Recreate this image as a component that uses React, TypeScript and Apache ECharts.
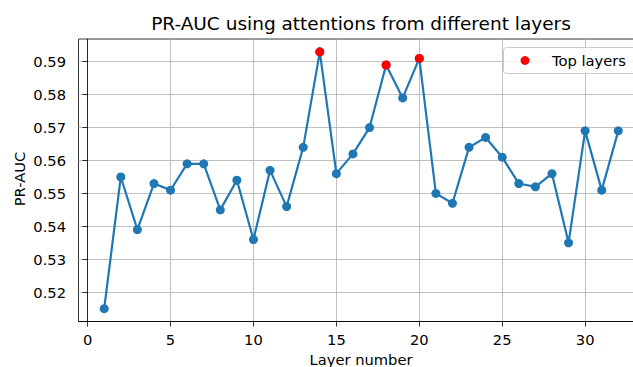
import React, { useEffect, useRef } from "react";
import * as echarts from "echarts";

const layers = [1, 2, 3, 4, 5, 6, 7, 8, 9, 10, 11, 12, 13, 14, 15, 16, 17, 18, 19, 20, 21, 22, 23, 24, 25, 26, 27, 28, 29, 30, 31, 32];
const prAuc = [0.515, 0.555, 0.539, 0.553, 0.551, 0.559, 0.559, 0.545, 0.554, 0.536, 0.557, 0.546, 0.564, 0.593, 0.556, 0.562, 0.570, 0.589, 0.579, 0.591, 0.550, 0.547, 0.564, 0.567, 0.561, 0.553, 0.552, 0.556, 0.535, 0.569, 0.551, 0.569];
const topLayers = [14, 18, 20];
const xTicks = [0, 5, 10, 15, 20, 25, 30];
const yTicks = [0.52, 0.53, 0.54, 0.55, 0.56, 0.57, 0.58, 0.59];

const FONT = "DejaVu Sans";
const TICK_FS = 14.7;

export default function App() {
  const ref = useRef<HTMLDivElement>(null);
  useEffect(() => {
    if (!ref.current) return;
    const chart = echarts.init(ref.current, undefined, { renderer: "svg" });
    const lineData = layers.map((l, i) => [l, prAuc[i]]);
    const topData = topLayers.map((l) => [l, prAuc[layers.indexOf(l)]]);
    chart.setOption({
      animation: false,
      grid: {
        left: 78.5,
        top: 39,
        width: 565.5,
        height: 282.5,
        outerBoundsMode: "none",
        containLabel: false,
        show: true,
        borderColor: "#000",
        borderWidth: 0.8,
        backgroundColor: "transparent",
      },
      xAxis: {
        type: "value",
        min: -0.55,
        max: 33.55,
        axisLine: { show: true, lineStyle: { color: "#000", width: 0.8 } },
        axisTick: { show: true, length: 5.1, customValues: xTicks, lineStyle: { color: "#000", width: 0.8 } },
        axisLabel: {
          customValues: xTicks,
          margin: 10.5,
          color: "#000",
          fontFamily: FONT,
          fontSize: TICK_FS,
          formatter: (v: number) => String(v),
        },
        splitLine: { show: true, lineStyle: { color: "#b0b0b0", width: 0.8 } },
      },
      yAxis: {
        type: "value",
        min: 0.5111,
        max: 0.5969,
        axisLine: { show: true, lineStyle: { color: "#000", width: 0.8 } },
        axisTick: { show: true, length: 5.1, customValues: yTicks, lineStyle: { color: "#000", width: 0.8 } },
        axisLabel: {
          customValues: yTicks,
          margin: 12.5,
          color: "#000",
          fontFamily: FONT,
          fontSize: TICK_FS,
          formatter: (v: number) => v.toFixed(2),
        },
        splitLine: { show: true, lineStyle: { color: "#b0b0b0", width: 0.8 } },
      },
      series: [
        {
          type: "line",
          data: lineData,
          symbol: "circle",
          symbolSize: 9,
          showAllSymbol: true,
          lineStyle: { color: "#1f77b4", width: 2.2 },
          itemStyle: { color: "#1f77b4" },
          z: 2,
        },
        {
          name: "Top layers",
          type: "scatter",
          data: topData,
          symbol: "circle",
          symbolSize: 9,
          itemStyle: { color: "#ff0000", opacity: 1 },
          z: 3,
        },
      ],
      graphic: [
        {
          type: "text",
          x: 361,
          y: 23.5,
          style: {
            text: "PR-AUC using attentions from different layers",
            fontFamily: FONT,
            fontSize: 18.5,
            fill: "#000",
            align: "center",
            verticalAlign: "middle",
          },
        },
        {
          type: "text",
          x: 361,
          y: 359.5,
          style: {
            text: "Layer number",
            fontFamily: FONT,
            fontSize: TICK_FS,
            fill: "#000",
            align: "center",
            verticalAlign: "middle",
          },
        },
        {
          type: "text",
          x: 19,
          y: 179,
          rotation: Math.PI / 2,
          style: {
            text: "PR-AUC",
            fontFamily: FONT,
            fontSize: TICK_FS,
            fill: "#000",
            align: "center",
            verticalAlign: "middle",
          },
        },
        {
          type: "rect",
          shape: { x: 503.5, y: 47.5, width: 134, height: 26, r: 3 },
          style: { fill: "rgba(255,255,255,0.8)", stroke: "#cccccc", lineWidth: 1 },
          z: 10,
        },
        {
          type: "circle",
          shape: { cx: 525, cy: 60.5, r: 4.4 },
          style: { fill: "#ff0000" },
          z: 11,
        },
        {
          type: "text",
          x: 552,
          y: 60.5,
          style: {
            text: "Top layers",
            fontFamily: FONT,
            fontSize: TICK_FS,
            fill: "#000",
            align: "left",
            verticalAlign: "middle",
          },
          z: 11,
        },
      ],
    });
    return () => chart.dispose();
  }, []);
  return (
    <div
      ref={ref}
      style={{ position: "absolute", left: 0, top: 0, width: 633, height: 367 }}
    />
  );
}
